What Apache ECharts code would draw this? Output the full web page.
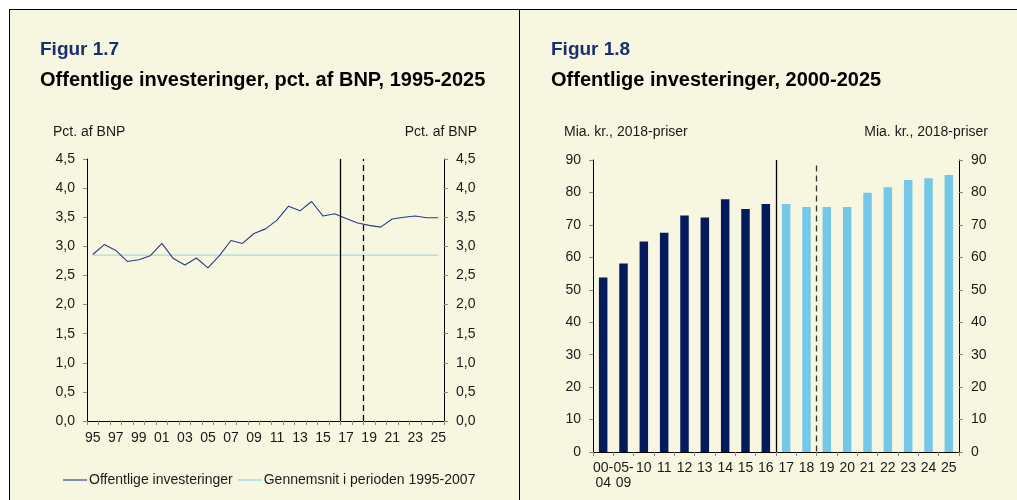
<!DOCTYPE html>
<html>
<head>
<meta charset="utf-8">
<script src="https://cdn.jsdelivr.net/npm/echarts@6/dist/echarts.min.js"></script>
<style>
  html, body { margin: 0; padding: 0; background: #fff; }
  #main { width: 1017px; height: 500px; }
</style>
</head>
<body>
<div id="main"></div>
<script>
// Figur 1.7 - pct. af BNP
const years = ['95','96','97','98','99','00','01','02','03','04','05','06','07','08','09','10',
  '11','12','13','14','15','16','17','18','19','20','21','22','23','24','25'];
const investPct = [2.86, 3.03, 2.93, 2.74, 2.77, 2.84, 3.05, 2.79, 2.68, 2.80, 2.63, 2.84, 3.10, 3.05, 3.22, 3.30,
  3.45, 3.69, 3.61, 3.77, 3.52, 3.56, 3.48, 3.40, 3.36, 3.33, 3.47, 3.50, 3.52, 3.49, 3.49];
const avg9507 = 2.85;
const pctTicks = { min: 0, max: 4.5, interval: 0.5 };

// Figur 1.8 - mia. kr., 2018-priser
const periods = ['00-\n04','05-\n09','10','11','12','13','14','15','16','17','18','19','20','21','22','23','24','25'];
const invActual = [53.8, 58.1, 64.9, 67.6, 72.9, 72.3, 77.9, 74.9, 76.4];
const invForecast = [76.4, 75.5, 75.5, 75.5, 79.9, 81.6, 83.8, 84.4, 85.4];
const krTicks = { min: 0, max: 90, interval: 10 };

// skillelinjer (i kategori-enheder, regnet fra venstre kant)
const splitLeft = { actual: 22, forecast: 24 };
const splitRight = { actual: 9, forecast: 11 };

const font = 'Liberation Sans, Arial, sans-serif';
const txt = '#1a1a1a';
const navy = '#1B2F6E';

let myChart = echarts.init(document.getElementById('main'));

function yAx(grid, pos, t) {
  return {
    type: 'value', gridIndex: grid, position: pos,
    min: t.min, max: t.max, interval: t.interval,
    axisLine: { show: true, lineStyle: { color: '#000', width: 1 } },
    axisTick: { show: true, length: 4, lineStyle: { color: '#888' } },
    splitLine: { show: false },
    axisLabel: {
      color: txt, fontFamily: font, fontSize: 14, margin: 12,
      formatter: v => t.interval < 1 ? v.toFixed(1).replace('.', ',') : String(v)
    }
  };
}

const unitTxt = (x, y, s, align) => ({
  type: 'text', left: align === 'right' ? null : x, right: align === 'right' ? 1017 - x : null, top: y,
  style: { text: s, fill: txt, font: '14px ' + font }
});

myChart.setOption({
  backgroundColor: '#fff',
  animation: false,
  graphic: [
    { type: 'rect', shape: { x: 9, y: 9, width: 1008, height: 491 }, style: { fill: '#F7F7E1', stroke: null }, z: -10 },
    { type: 'line', shape: { x1: 9, y1: 9.5, x2: 1017, y2: 9.5 }, style: { stroke: '#000', lineWidth: 1 } },
    { type: 'line', shape: { x1: 9.5, y1: 9, x2: 9.5, y2: 500 }, style: { stroke: '#000', lineWidth: 1 } },
    { type: 'line', shape: { x1: 519.5, y1: 9, x2: 519.5, y2: 500 }, style: { stroke: '#000', lineWidth: 1 } },
    { type: 'text', left: 40, top: 40, style: { text: 'Figur 1.7', fill: navy, font: 'bold 19px ' + font } },
    { type: 'text', left: 40, top: 70, style: { text: 'Offentlige investeringer, pct. af BNP, 1995-2025', fill: '#000', font: 'bold 20px ' + font } },
    { type: 'text', left: 551, top: 40, style: { text: 'Figur 1.8', fill: navy, font: 'bold 19px ' + font } },
    { type: 'text', left: 551, top: 70, style: { text: 'Offentlige investeringer, 2000-2025', fill: '#000', font: 'bold 20px ' + font } },
    unitTxt(53, 125, 'Pct. af BNP'),
    unitTxt(477, 125, 'Pct. af BNP', 'right'),
    unitTxt(564, 125, 'Mia. kr., 2018-priser'),
    unitTxt(988, 125, 'Mia. kr., 2018-priser', 'right')
  ],
  legend: {
    left: 58, top: 468,
    itemWidth: 24, itemHeight: 2, itemGap: 5,
    data: [
      { name: 'Offentlige investeringer', icon: 'rect' },
      { name: 'Gennemsnit i perioden 1995-2007', icon: 'rect' }
    ],
    textStyle: { color: txt, fontFamily: font, fontSize: 14, padding: [0, 0, 0, -3] }
  },
  grid: [
    { left: 87, top: 159, width: 357, height: 262 },
    { left: 593, top: 160, width: 366, height: 292 }
  ],
  xAxis: [
    {
      type: 'category', gridIndex: 0, data: years, boundaryGap: true,
      axisLine: { lineStyle: { color: '#000' } },
      axisTick: { show: true, interval: 0, length: 4, lineStyle: { color: '#888' } },
      axisLabel: { interval: 1, color: txt, fontFamily: font, fontSize: 14, margin: 10 }
    },
    { type: 'value', gridIndex: 0, min: 0, max: years.length, show: false },
    {
      type: 'category', gridIndex: 1, data: periods, boundaryGap: true,
      axisLine: { lineStyle: { color: '#000' } },
      axisTick: { show: true, interval: 0, length: 4, lineStyle: { color: '#888' } },
      axisLabel: { interval: 0, color: txt, fontFamily: font, fontSize: 14, margin: 9, lineHeight: 15 }
    },
    { type: 'value', gridIndex: 1, min: 0, max: periods.length, show: false }
  ],
  yAxis: [
    yAx(0, 'left', pctTicks),
    yAx(0, 'right', pctTicks),
    yAx(1, 'left', krTicks),
    yAx(1, 'right', krTicks)
  ],
  series: [
    {
      name: 'Gennemsnit i perioden 1995-2007', type: 'line', xAxisIndex: 0, yAxisIndex: 0,
      data: [[years[0], avg9507], [years[years.length - 1], avg9507]],
      symbol: 'none', lineStyle: { color: '#A9D9DC', width: 1.2 }, itemStyle: { color: '#BCE3E6' }
    },
    {
      name: 'Offentlige investeringer', type: 'line', xAxisIndex: 0, yAxisIndex: 0,
      data: investPct, symbol: 'none',
      lineStyle: { color: '#2B3C82', width: 1.1 }, itemStyle: { color: '#8590B0' }
    },
    {
      type: 'line', xAxisIndex: 1, yAxisIndex: 0, data: [], symbol: 'none',
      markLine: {
        silent: true, symbol: 'none', label: { show: false },
        data: [
          { xAxis: splitLeft.actual, lineStyle: { color: '#000', width: 1.3, type: 'solid' } },
          { xAxis: splitLeft.forecast, lineStyle: { color: '#000', width: 1.3, type: [6, 4] } }
        ]
      }
    },
    {
      name: 'Faktisk', type: 'bar', xAxisIndex: 2, yAxisIndex: 2,
      data: invActual.concat(invForecast.map(() => null)),
      barWidth: 8.5, barGap: '-100%', itemStyle: { color: '#041A5A' }
    },
    {
      name: 'Fremskrivning', type: 'bar', xAxisIndex: 2, yAxisIndex: 2,
      data: invActual.map(() => null).concat(invForecast),
      barWidth: 8.5, barGap: '-100%', itemStyle: { color: '#74C7E6' }
    },
    {
      type: 'line', xAxisIndex: 3, yAxisIndex: 2, data: [], symbol: 'none',
      markLine: {
        silent: true, symbol: 'none', label: { show: false },
        data: [
          { xAxis: splitRight.actual, lineStyle: { color: '#000', width: 1.3, type: 'solid' } },
          [
            { coord: [splitRight.forecast, 88.3], lineStyle: { color: '#333', width: 1.3, type: [6, 4] } },
            { coord: [splitRight.forecast, 0] }
          ]
        ]
      }
    }
  ]
});
</script>
</body>
</html>
